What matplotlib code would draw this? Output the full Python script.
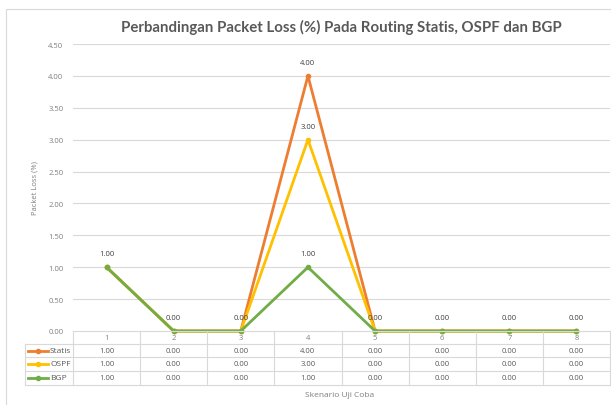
import matplotlib
matplotlib.use("Agg")
import matplotlib.pyplot as plt
import matplotlib.transforms as mtransforms
from matplotlib.patches import Rectangle
from matplotlib.lines import Line2D

categories = ["1", "2", "3", "4", "5", "6", "7", "8"]
series_names = ["Statis", "OSPF", "BGP"]
statis = [1.00, 0.00, 0.00, 4.00, 0.00, 0.00, 0.00, 0.00]
ospf = [1.00, 0.00, 0.00, 3.00, 0.00, 0.00, 0.00, 0.00]
bgp = [1.00, 0.00, 0.00, 1.00, 0.00, 0.00, 0.00, 0.00]
yticks = [0.0, 0.5, 1.0, 1.5, 2.0, 2.5, 3.0, 3.5, 4.0, 4.5]
colors = ["#ED7D31", "#FFC000", "#70AD47"]
title = "Perbandingan Packet Loss (%) Pada Routing Statis, OSPF dan BGP"
ylabel = "Packet Loss (%)"
xlabel = "Skenario Uji Coba"

W, H = 611, 406
fig = plt.figure(figsize=(W / 100, H / 100), dpi=100)
fig.patch.set_facecolor("white")

def fx(px):
    return px / W

def fy(py):
    return 1 - py / H

# chart border
fig.patches.append(Rectangle((fx(6), fy(420)), fx(620), fy(10) - fy(420),
                             transform=fig.transFigure, fill=False,
                             edgecolor="#D9D9D9", linewidth=0.8))

ax_left, ax_right, ax_top, ax_bot = 73, 610, 45, 332
ax = fig.add_axes([fx(ax_left), fy(ax_bot), fx(ax_right - ax_left), fy(ax_top) - fy(ax_bot)])
ax.set_xlim(0.5, len(categories) + 0.5)
ax.set_ylim(0, 4.5)
for s in ax.spines.values():
    s.set_visible(False)
ax.set_yticks(yticks)
ax.set_yticklabels([f"{v:.2f}" for v in yticks], fontsize=5.5, color="#7F7F7F", family="Open Sans")
ax.tick_params(axis="y", length=0, pad=7)
ax.set_xticks([])
for v in yticks[1:]:
    ax.axhline(v, color="#D9D9D9", linewidth=0.8, zorder=0)

x = list(range(1, len(categories) + 1))
data = [statis, ospf, bgp]
for vals, c in zip(data, colors):
    ax.plot(x, vals, color=c, linewidth=2.0, marker="o", markersize=3.0,
            zorder=3, clip_on=False)
seen = set()
for vals in data:
    for xi, v in zip(x, vals):
        if (xi, v) in seen:
            continue
        seen.add((xi, v))
        ax.annotate(f"{v:.2f}", (xi, v), xytext=(0, 7), textcoords="offset points",
                    ha="center", va="bottom", fontsize=5.5, color="#404040",
                    family="Open Sans", zorder=4)

# data table
grid_c = "#D9D9D9"
def line_px(x0, y0, x1, y1):
    fig.add_artist(Line2D([fx(x0), fx(x1)], [fy(y0), fy(y1)], transform=fig.transFigure,
                          color=grid_c, linewidth=0.8))

row_y = [332, 345, 358, 372, 386]
tbl_left = 25
line_px(ax_left, row_y[0], ax_right, row_y[0])
for yy in row_y[1:]:
    line_px(tbl_left, yy, ax_right, yy)
line_px(tbl_left, row_y[1], tbl_left, row_y[-1])

trans = mtransforms.blended_transform_factory(ax.transData, fig.transFigure)
for b in [i + 0.5 for i in range(len(categories) + 1)]:
    fig.add_artist(Line2D([b, b], [fy(row_y[0]), fy(row_y[-1])], transform=trans,
                          color=grid_c, linewidth=0.8, clip_on=False))

for xi, cat in zip(x, categories):
    fig.text(xi, fy((row_y[0] + row_y[1]) / 2), cat, transform=trans, ha="center",
             va="center", fontsize=5.5, color="#7F7F7F", family="Open Sans")
for r, vals in enumerate(data):
    yc = fy((row_y[r + 1] + row_y[r + 2]) / 2)
    for xi, v in zip(x, vals):
        fig.text(xi, yc, f"{v:.2f}", transform=trans, ha="center", va="center",
                 fontsize=5.5, color="#595959", family="Open Sans")
    # legend key
    fig.add_artist(Line2D([fx(28), fx(48)], [yc, yc], transform=fig.transFigure,
                          color=colors[r], linewidth=2.0))
    fig.add_artist(Line2D([fx(38)], [yc], transform=fig.transFigure, color=colors[r],
                          marker="o", markersize=3.0, linestyle="none"))
    fig.text(fx(50), yc, series_names[r], ha="left", va="center", fontsize=6,
             color="#595959", family="Open Sans")

fig.text(fx(341), fy(27), title, ha="center", va="center", fontsize=10.8,
         color="#595959", family="Lato", fontweight="bold")
fig.text(fx(35), fy(188), ylabel, ha="center", va="center", rotation=90,
         fontsize=5.5, color="#7F7F7F", family="Open Sans")
fig.text(fx(340), fy(396), xlabel, ha="center", va="center", fontsize=6,
         color="#7F7F7F", family="Open Sans")

fig.savefig("out.png", dpi=100, facecolor="white")
